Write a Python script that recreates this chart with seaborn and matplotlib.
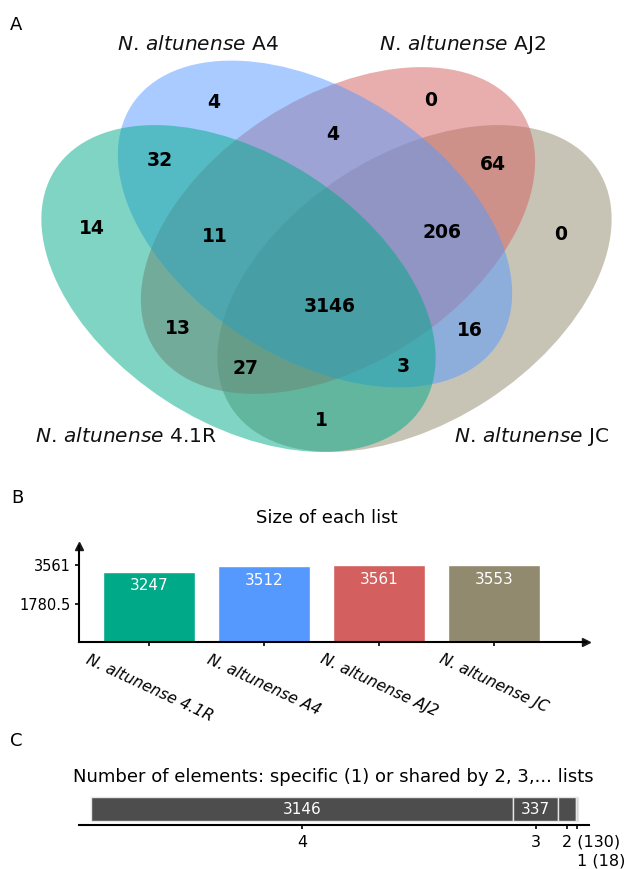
import numpy as np
import pandas as pd
import matplotlib
matplotlib.use('Agg')
import matplotlib.pyplot as plt
import seaborn as sns
from matplotlib.patches import Ellipse
from matplotlib.transforms import ScaledTranslation

# data
set_names = ['N. altunense 4.1R', 'N. altunense A4', 'N. altunense AJ2', 'N. altunense JC']
set_short = ['4.1R', 'A4', 'AJ2', 'JC']
set_sizes = [3247, 3512, 3561, 3553]
set_colors = ['#00aa88', '#5599ff', '#d35f5f', '#918a6f']

# venn regions, membership code in order 4.1R, A4, AJ2, JC
region_codes = ['0100', '0010', '1100', '0110', '0011', '1000', '1110', '0111',
                '0001', '1111', '1010', '0101', '1011', '1101', '1001']
region_counts = [4, 0, 32, 4, 64, 14, 11, 206, 0, 3146, 13, 16, 27, 3, 1]

# number of lists sharing an element
share_levels = ['4', '3', '2', '1']
share_counts = [3146, 337, 130, 18]
share_colors = ['#4d4d4d', '#4d4d4d', '#4d4d4d', '#cccccc']

# layout (pixels of the 626x869 picture)
W, H = 626, 869
ell_w, ell_h = 437, 267
ell_layout = [(238.5, 288.5, 33), (315, 224, 33), (338, 230.5, -33), (414.5, 288.5, -33)]
name_pos = [(126, 437), (198, 45), (462, 45), (532, 437)]
region_pos = {'0100': (214, 103), '0010': (431, 100), '1100': (160, 160), '0110': (333, 134),
              '0011': (493, 164), '1000': (92, 229), '1110': (215, 237), '0111': (442, 232),
              '0001': (561, 234), '1111': (330, 307), '1010': (178, 329), '0101': (470, 330),
              '1011': (246, 369), '1101': (403, 367), '1001': (321, 421)}

sns.set_theme(style='white')
plt.rcParams['font.family'] = ['DejaVu Sans']
plt.rcParams['mathtext.fontset'] = 'dejavusans'
plt.rcParams['text.color'] = 'black'
plt.rcParams['xtick.color'] = 'black'
plt.rcParams['ytick.color'] = 'black'
plt.rcParams['axes.labelcolor'] = 'black'


def fx(px):
    return px / W


def fy(py):
    return 1 - py / H


fig = plt.figure(figsize=(W / 100, H / 100), dpi=100)

# ---- A: venn diagram ----
axV = fig.add_axes([0, 0, 1, 1])
axV.set_xlim(0, W)
axV.set_ylim(H, 0)
axV.set_axis_off()
for i in [3, 2, 1, 0]:
    cx, cy, ang = ell_layout[i]
    axV.add_patch(Ellipse((cx, cy), ell_w, ell_h, angle=ang, facecolor=set_colors[i],
                          alpha=0.5, edgecolor='none'))
for code, cnt in zip(region_codes, region_counts):
    x, y = region_pos[code]
    axV.text(x, y, str(cnt), ha='center', va='center', fontsize=13.5, fontweight='bold',
             color='black')
for i in range(4):
    x, y = name_pos[i]
    axV.text(x, y, r'$\mathit{N.}\,\mathit{altunense}$ ' + set_short[i], ha='center',
             va='center', fontsize=14.5, color='#111111')

fig.text(fx(16), fy(25), 'A', ha='center', va='center', fontsize=13)
fig.text(fx(17), fy(498), 'B', ha='center', va='center', fontsize=13)
fig.text(fx(16), fy(741), 'C', ha='center', va='center', fontsize=13)

# ---- B: size of each list ----
axB = fig.add_axes([fx(79), fy(642), (586 - 79) / W, (642 - 546) / H])
axB.patch.set_alpha(0)
df = pd.DataFrame({'list': set_names, 'size': set_sizes})
sns.barplot(data=df, x='list', y='size', hue='list', palette=set_colors, saturation=1,
            width=0.8, legend=False, ax=axB)
axB.set_xlim(-0.61, 3.8)
axB.set_ylim(0, max(set_sizes) * 96 / 77)
axB.set_yticks([max(set_sizes) / 2, max(set_sizes)])
axB.set_yticklabels(['1780.5', '3561'])
axB.set_xlabel('')
axB.set_ylabel('')
for s in ['top', 'right']:
    axB.spines[s].set_visible(False)
for s in ['left', 'bottom']:
    axB.spines[s].set_linewidth(1.5)
    axB.spines[s].set_color('black')
axB.tick_params(axis='both', which='major', length=3, width=1.2, color='black',
                direction='out', left=True, bottom=True)
axB.tick_params(axis='y', labelsize=10.5, pad=3)
axB.tick_params(axis='x', labelsize=11.2, pad=4, labelrotation=-25)
for tl in axB.get_xticklabels():
    tl.set_style('italic')
    tl.set_ha('center')
axB.plot(1, 0, '>k', markersize=6, transform=axB.transAxes, clip_on=False)
axB.plot(0, 1, '^k', markersize=6, transform=axB.transAxes, clip_on=False)
for i, v in enumerate(set_sizes):
    axB.annotate(str(v), (i, v), xytext=(0, -14), textcoords='offset pixels',
                 ha='center', va='center', color='white', fontsize=11)
fig.text(fx(327), fy(518), 'Size of each list', ha='center', va='center', fontsize=13)

# ---- C: shared elements ----
axC = fig.add_axes([fx(79), fy(825), (589 - 79) / W, 32 / H])
axC.patch.set_alpha(0)
lefts = np.concatenate([[0], np.cumsum(share_counts)[:-1]])
axC.barh(0.5, share_counts, left=lefts, height=0.75, color=share_colors,
         edgecolor='#e6e6e6', linewidth=1)
axC.set_xlim(-89.5, 3712.5)
axC.set_ylim(0, 1)
axC.set_yticks([])
for s in ['top', 'right', 'left']:
    axC.spines[s].set_visible(False)
axC.spines['bottom'].set_linewidth(1.5)
axC.spines['bottom'].set_color('black')
centers = lefts + np.array(share_counts) / 2
tick_labels = [lvl if cnt > 300 else f'{lvl} ({cnt})' for lvl, cnt in zip(share_levels, share_counts)]
axC.set_xticks(centers)
axC.set_xticklabels(tick_labels)
axC.tick_params(axis='x', length=3, width=1.2, color='black', direction='out',
                bottom=True, labelsize=11.5, pad=4)
label_shift = [(0, 0), (0, 0), (-5, 0), (0, -19)]
for tl, (dx, dy) in zip(axC.get_xticklabels(), label_shift):
    if tl.get_text() not in share_levels:
        tl.set_ha('left')
        tl.set_transform(tl.get_transform() + ScaledTranslation(dx / 100, dy / 100, fig.dpi_scale_trans))
for c, cnt in zip(centers, share_counts):
    if cnt > 300:
        axC.text(c, 0.5, str(cnt), ha='center', va='center', color='white', fontsize=11)
fig.text(fx(333.5), fy(777), 'Number of elements: specific (1) or shared by 2, 3,... lists',
         ha='center', va='center', fontsize=13)

fig.savefig('out.png', dpi=100)
